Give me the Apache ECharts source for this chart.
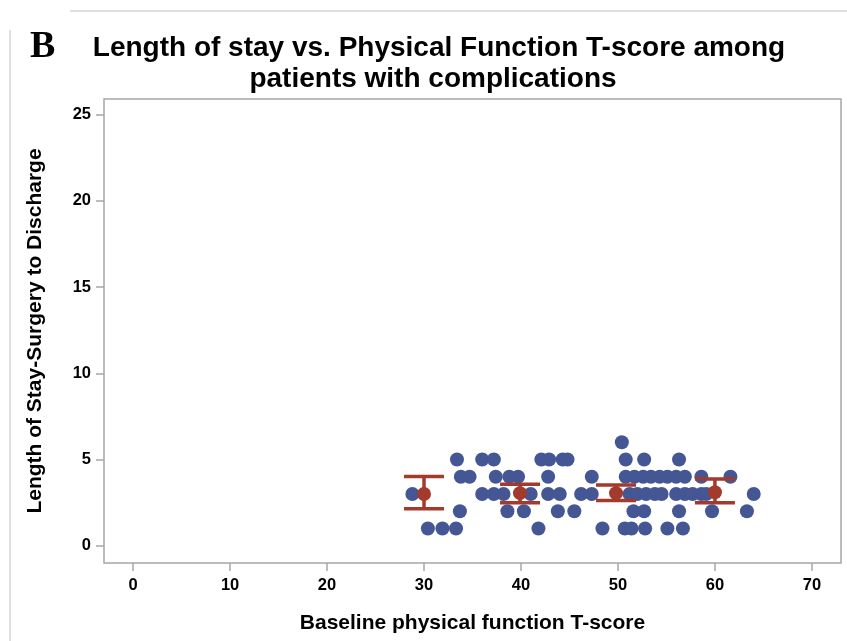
<!DOCTYPE html>
<html>
<head>
<meta charset="utf-8">
<script src="https://cdn.jsdelivr.net/npm/echarts@6/dist/echarts.min.js"></script>
<style>
  html, body { margin: 0; padding: 0; background: #fff; }
  #main { width: 847px; height: 641px; }
</style>
</head>
<body>
<div id="main"></div>
<script>
var myChart = echarts.init(document.getElementById('main'));

// 每个病人：基线T分数 和 住院天数
var ptX = [
  30.4, 31.9, 33.3, 41.8, 48.4, 50.7, 51.4, 52.8, 55.1, 56.7,
  33.7, 38.6, 40.3, 43.8, 45.5, 51.6, 52.7, 56.3, 59.7, 63.3,
  28.8, 36.0, 37.2, 38.2, 41.0, 42.8, 44.0, 46.2, 47.3, 51.2, 52.0, 52.9, 53.8, 54.5, 56.0, 56.9, 57.7, 58.6, 59.1, 64.0,
  33.8, 34.7, 37.4, 38.8, 39.7, 42.8, 47.3, 50.8, 51.7, 52.6, 53.4, 54.3, 55.1, 56.0, 56.9, 58.6, 61.6,
  33.4, 36.0, 37.2, 42.1, 42.9, 44.3, 44.8, 50.8, 52.7, 56.3,
  50.4
];
var ptY = [
  1, 1, 1, 1, 1, 1, 1, 1, 1, 1,
  2, 2, 2, 2, 2, 2, 2, 2, 2, 2,
  3, 3, 3, 3, 3, 3, 3, 3, 3, 3, 3, 3, 3, 3, 3, 3, 3, 3, 3, 3,
  4, 4, 4, 4, 4, 4, 4, 4, 4, 4, 4, 4, 4, 4, 4, 4, 4,
  5, 5, 5, 5, 5, 5, 5, 5, 5, 5,
  6
];

// 分组均值和置信区间
var meanX = [30.0, 39.9, 49.8, 60.0];
var meanY = [3.0, 3.05, 3.05, 3.1];
var ciLow = [2.15, 2.5, 2.62, 2.5];
var ciHigh = [4.02, 3.56, 3.52, 3.87];

var xTicks = [0, 10, 20, 30, 40, 50, 60, 70];
var yTicks = [0, 5, 10, 15, 20, 25];

var BLUE = '#445694';
var RED = '#A23A2E';
var FONT = "'Liberation Sans', Arial, sans-serif";

var pts = ptX.map(function (x, i) { return [x, ptY[i]]; });
var means = meanX.map(function (x, i) { return [x, meanY[i]]; });
var bars = meanX.map(function (x, i) { return [x, ciLow[i], ciHigh[i]]; });

function renderBar(params, api) {
    var lo = api.coord([api.value(0), api.value(1)]);
    var hi = api.coord([api.value(0), api.value(2)]);
    var hw = 20;
    var st = { stroke: RED, lineWidth: 3.5 };
    return {
        type: 'group',
        children: [
            { type: 'line', shape: { x1: lo[0], y1: lo[1], x2: hi[0], y2: hi[1] }, style: st },
            { type: 'line', shape: { x1: lo[0] - hw, y1: lo[1], x2: lo[0] + hw, y2: lo[1] }, style: st },
            { type: 'line', shape: { x1: hi[0] - hw, y1: hi[1], x2: hi[0] + hw, y2: hi[1] }, style: st }
        ]
    };
}

var titleStyle = {
    fontFamily: FONT,
    fontWeight: 'bold',
    fontSize: 28,
    lineHeight: 31,
    color: '#000'
};

option = {
    animation: false,
    title: [
        { text: 'Length of stay vs. Physical Function T-score among', left: 434, top: 28, textAlign: 'center', textStyle: titleStyle },
        { text: 'patients with complications', left: 428, top: 59, textAlign: 'center', textStyle: titleStyle }
    ],
    graphic: [
        { type: 'text', left: 30, top: 28,
          style: { text: 'B', fontFamily: "'Liberation Serif', 'Times New Roman', serif", fontWeight: 'bold', fontSize: 38, fill: '#000' } },
        { type: 'line', shape: { x1: 10, y1: 30, x2: 10, y2: 641 }, style: { stroke: '#d4d4d4', lineWidth: 1.5 } },
        { type: 'line', shape: { x1: 70, y1: 11, x2: 847, y2: 11 }, style: { stroke: '#d4d4d4', lineWidth: 1.5 } }
    ],
    grid: {
        left: 104,
        right: 6,
        top: 99,
        bottom: 78,
        show: true,
        borderColor: '#a6a6a6',
        borderWidth: 1.5,
        backgroundColor: '#fff'
    },
    xAxis: {
        type: 'value',
        min: -3,
        max: 73,
        name: 'Baseline physical function T-score',
        nameLocation: 'middle',
        nameGap: 50,
        nameTextStyle: { fontFamily: FONT, fontWeight: 'bold', fontSize: 21, color: '#000' },
        axisLine: { show: false, onZero: false },
        splitLine: { show: false },
        axisTick: { show: true, length: 8, customValues: xTicks, lineStyle: { color: '#a6a6a6', width: 1.5 } },
        axisLabel: { customValues: xTicks, margin: 14, fontFamily: FONT, fontWeight: 'bold', fontSize: 16.5, color: '#000' }
    },
    yAxis: {
        type: 'value',
        min: -1,
        max: 25.9,
        name: 'Length of Stay-Surgery to Discharge',
        nameLocation: 'middle',
        nameGap: 58,
        nameTextStyle: { fontFamily: FONT, fontWeight: 'bold', fontSize: 21, color: '#000' },
        axisLine: { show: false, onZero: false },
        splitLine: { show: false },
        axisTick: { show: true, length: 8, customValues: yTicks, lineStyle: { color: '#a6a6a6', width: 1.5 } },
        axisLabel: { customValues: yTicks, margin: 13, fontFamily: FONT, fontWeight: 'bold', fontSize: 16.5, color: '#000' }
    },
    series: [
        {
            name: 'patients',
            type: 'scatter',
            data: pts,
            symbolSize: 14,
            itemStyle: { color: BLUE, opacity: 1 },
            z: 2
        },
        {
            name: 'ci',
            type: 'custom',
            renderItem: renderBar,
            data: bars,
            encode: { x: 0, y: [1, 2] },
            z: 3
        },
        {
            name: 'mean',
            type: 'scatter',
            data: means,
            symbolSize: 14,
            itemStyle: { color: RED, opacity: 1 },
            z: 4
        }
    ]
};

myChart.setOption(option);
</script>
</body>
</html>
